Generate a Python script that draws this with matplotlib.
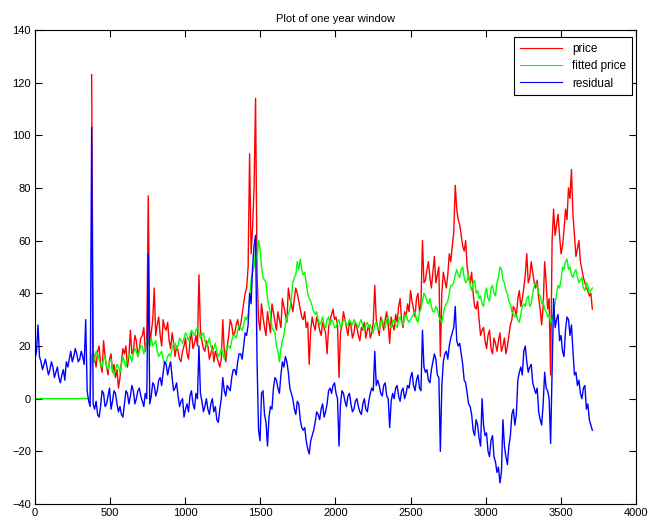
import numpy as np
import matplotlib
matplotlib.use("Agg")
import matplotlib.pyplot as plt

plt.rcParams['font.family'] = ['Liberation Sans', 'DejaVu Sans']

# series are sampled every ~20 days; *_mid holds the reading halfway between
residual = [
    15, 28, 14, 13, 12, 11, 12, 10, 8, 9,
    7, 12, 18, 16, 17, 15, 16, 30, -1, 103,
    -4, -6, -3, 2, -2, 4, -1, 2, -5, -6,
    -2, 2, 1, 3, 0, 4, -1, 2, 55, 1,
    5, 3, 8, 10, 13, 12, 8, 4, 1, -1,
    -7, -2, 1, -2, 2, 20, -1, -3, -4, -2,
    -5, -8, -4, 8, 1, 4, 8, 11, 14, 17,
    20, 24, 40, 50, 62, -12, 2, -6, -18, -3,
    4, 7, 2, 14, 16, 10, 2, -4, -1, -8,
    -12, -16, -21, -14, -9, -6, -4, -7, -2, 4,
    5, 2, -18, 3, -1, 1, -2, -4, 0, -5,
    -2, -4, -1, 4, 18, 7, 2, 5, 1, -11,
    2, 4, 1, 3, 0, 5, 8, 5, 7, 4,
    26, 10, 7, 11, 17, 9, -20, 14, 18, 20,
    25, 35, 20, 17, 7, 2, -3, -12, -8, -15,
    0, -14, -20, -16, -22, -28, -32, -8, -22, -18,
    -6, -10, 7, 12, 18, 14, 12, 6, 2, -5,
    -10, 10, 3, -17, 38, 30, 22, 18, 26, 30,
    28, 9, 5, 2, 4, -4, -8, -12,
]
residual_mid = [
    18, 16, 11, 15, 9, 14, 8, 12, 6, 11,
    14, 15, 14, 19, 14, 18, 13, 3, -3, -2,
    -1, -7, 3, -3, 1, -4, 3, -2, -3, -7,
    3, -2, 5, -2, 3, 1, -3, 0, -2, 6,
    1, 7, 5, 14, 9, 14, 3, 6, -3, 0,
    -4, -5, 3, -4, 0, 2, -5, 0, -6, 0,
    -3, -9, 0, 3, 5, 3, 11, 9, 17, 15,
    25, 28, 36, 58, 14, -16, 3, -9, -7, -4,
    8, 4, 9, 12, 14, 4, 0, -6, -2, -11,
    -11, -19, -16, -12, -5, -8, -2, -5, 3, 2,
    6, 0, -2, 2, -3, 2, -5, -1, -3, -6,
    0, -5, 2, 3, 5, 5, 1, 6, 0, -1,
    0, 5, -1, 4, 2, 4, 10, 3, 9, 3,
    12, 11, 6, 14, 15, 8, 5, 17, 15, 23,
    27, 22, 21, 13, 6, -2, -6, -14, -10, -18,
    -10, -13, -22, -14, -24, -26, -28, -18, -25, -14,
    -4, -6, 10, 9, 20, 10, 13, 4, 4, -8,
    -2, 4, 0, 10, 27, 32, 24, 16, 31, 24,
    18, 10, 7, 0, 5, -2, -10,
]

# price only exists once the one-year window is filled
price = [np.nan] * 19 + [
    123, 15, 18, 13, 22, 12, 15, 10, 8, 4, 14,
    17, 12, 26, 18, 22, 19, 24, 18, 77, 25,
    42, 28, 24, 30, 26, 22, 25, 16, 18, 14,
    20, 17, 22, 19, 24, 47, 22, 18, 20, 17,
    14, 16, 12, 30, 14, 24, 28, 25, 30, 28,
    36, 42, 93, 65, 114, 30, 36, 27, 33, 25,
    33, 26, 30, 38, 32, 42, 36, 38, 40, 34,
    30, 27, 13, 31, 26, 29, 24, 27, 17, 30,
    34, 31, 8, 28, 30, 24, 28, 25, 27, 22,
    26, 23, 28, 25, 43, 27, 31, 26, 33, 21,
    28, 32, 35, 30, 33, 36, 41, 34, 38, 33,
    60, 45, 52, 42, 54, 47, 16, 48, 42, 55,
    58, 81, 68, 62, 56, 50, 44, 40, 34, 30,
    26, 22, 24, 19, 23, 18, 25, 20, 17, 24,
    30, 34, 38, 35, 42, 55, 46, 48, 42, 38,
    28, 52, 34, 9, 72, 66, 62, 58, 72, 80,
    87, 62, 57, 52, 46, 42, 39, 34,
]
price_mid = [np.nan] * 19 + [
    18, 12, 20, 10, 16, 9, 17, 13, 11, 8, 19,
    20, 16, 17, 24, 16, 23, 27, 22, 20, 30,
    24, 31, 20, 27, 29, 19, 21, 20, 15, 18,
    23, 15, 25, 21, 20, 26, 19, 22, 15, 20,
    18, 14, 15, 18, 20, 30, 24, 28, 26, 32,
    40, 50, 55, 80, 48, 26, 31, 24, 29, 36,
    29, 33, 27, 35, 29, 38, 33, 42, 37, 31,
    33, 29, 26, 28, 31, 26, 29, 25, 27, 32,
    30, 28, 25, 33, 27, 29, 23, 29, 24, 27,
    29, 26, 23, 29, 30, 24, 29, 30, 28, 31,
    26, 29, 38, 27, 31, 33, 37, 31, 40, 36,
    44, 49, 46, 48, 44, 50, 40, 45, 47, 52,
    63, 72, 66, 58, 60, 46, 48, 35, 37, 24,
    27, 19, 26, 17, 21, 22, 18, 23, 20, 28,
    35, 31, 41, 38, 47, 44, 52, 44, 45, 34,
    35, 44, 38, 60, 62, 70, 55, 64, 68, 76,
    70, 54, 60, 49, 44, 41, 40,
]

fitted = [0] * 19 + [
    17, 15, 17, 13, 15, 12, 14, 11, 11, 12,
    13, 14, 15, 16, 17, 18, 18, 20, 19, 22,
    23, 21, 18, 17, 15, 14, 17, 19, 21, 20,
    22, 23, 24, 24, 25, 26, 25, 24, 22, 21,
    20, 19, 18, 17, 17, 18, 20, 22, 24, 26,
    27, 28, 30, 38, 48, 56, 60, 50, 45, 38,
    32, 26, 20, 14, 22, 28, 32, 38, 46, 52,
    53, 47, 44, 38, 35, 32, 30, 29, 28, 30,
    28, 29, 27, 30, 28, 30, 28, 29, 30, 28,
    29, 27, 28, 27, 26, 28, 27, 29, 28, 30,
    28, 29, 28, 30, 29, 31, 30, 30, 32, 30,
    33, 37, 39, 36, 35, 33, 34, 30, 32, 36,
    40, 43, 47, 47, 49, 46, 45, 43, 44, 40,
    38, 36, 40, 38, 42, 40, 44, 50, 45, 41,
    37, 33, 31, 30, 32, 36, 38, 35, 40, 44,
    40, 36, 34, 31, 29, 33, 40, 42, 50, 52,
    49, 47, 48, 46, 45, 42, 44, 40, 42,
]
fitted_mid = [0] * 19 + [
    14, 18, 15, 12, 16, 11, 15, 9, 13, 10,
    16, 12, 17, 14, 19, 16, 20, 17, 22, 20,
    20, 22, 16, 18, 13, 16, 16, 21, 19, 23,
    21, 25, 22, 26, 24, 27, 23, 25, 20, 23,
    18, 21, 16, 19, 15, 20, 19, 24, 23, 28,
    26, 31, 32, 45, 50, 52, 57, 46, 44, 35,
    27, 25, 18, 19, 24, 31, 34, 44, 47, 49,
    49, 48, 40, 37, 33, 33, 28, 31, 27, 31,
    30, 27, 29, 27, 30, 28, 30, 28, 29, 27,
    30, 26, 29, 28, 25, 29, 26, 30, 27, 31,
    27, 30, 27, 31, 28, 32, 29, 31, 33, 29,
    34, 40, 37, 38, 33, 35, 31, 29, 35, 37,
    43, 44, 49, 46, 50, 44, 47, 41, 45, 41,
    39, 35, 42, 37, 43, 39, 46, 49, 44, 40,
    36, 32, 32, 29, 35, 35, 39, 36, 43, 43,
    39, 37, 33, 32, 30, 36, 43, 45, 49, 53,
    50, 46, 49, 44, 46, 41, 43, 41,
]


def interleave(on_grid, half_step):
    out = np.empty(2 * len(on_grid) - 1)
    out[0::2] = on_grid
    out[1::2] = half_step
    return out


price_full = interleave(price, price_mid)
fitted_full = interleave(fitted, fitted_mid)
residual_full = interleave(residual, residual_mid)
days = np.linspace(0, 3710, len(residual_full))

fig = plt.figure(figsize=(6.51, 5.25), dpi=100)
ax = fig.add_axes([0.0538, 0.04, 0.923, 0.903])

ax.plot(days, price_full, color='#ff0000', lw=1.0, label='price')
ax.plot(days, fitted_full, color='#00ff00', lw=1.0, label='fitted price')
ax.plot(days, residual_full, color='#0000ff', lw=1.0, label='residual')

ax.set_xlim(0, 4000)
ax.set_ylim(-40, 140)
ax.set_xticks(np.arange(0, 4001, 500))
ax.set_yticks(np.arange(-40, 141, 20))
ax.tick_params(direction='in', top=True, right=True, length=5, width=0.8,
               labelsize=8, pad=3)
for s in ax.spines.values():
    s.set_linewidth(0.8)
    s.set_color('black')

ax.set_title('Plot of one year window', fontsize=8, pad=6)

leg = ax.legend(loc='upper right', bbox_to_anchor=(0.993, 0.985),
                borderaxespad=0, fontsize=8.5, handlelength=3.6,
                fancybox=False, edgecolor='black', framealpha=1,
                labelspacing=0.45, borderpad=0.5)
leg.get_frame().set_linewidth(0.8)
for line in leg.get_lines():
    line.set_linewidth(0.8)

fig.savefig('out.png', dpi=100)
